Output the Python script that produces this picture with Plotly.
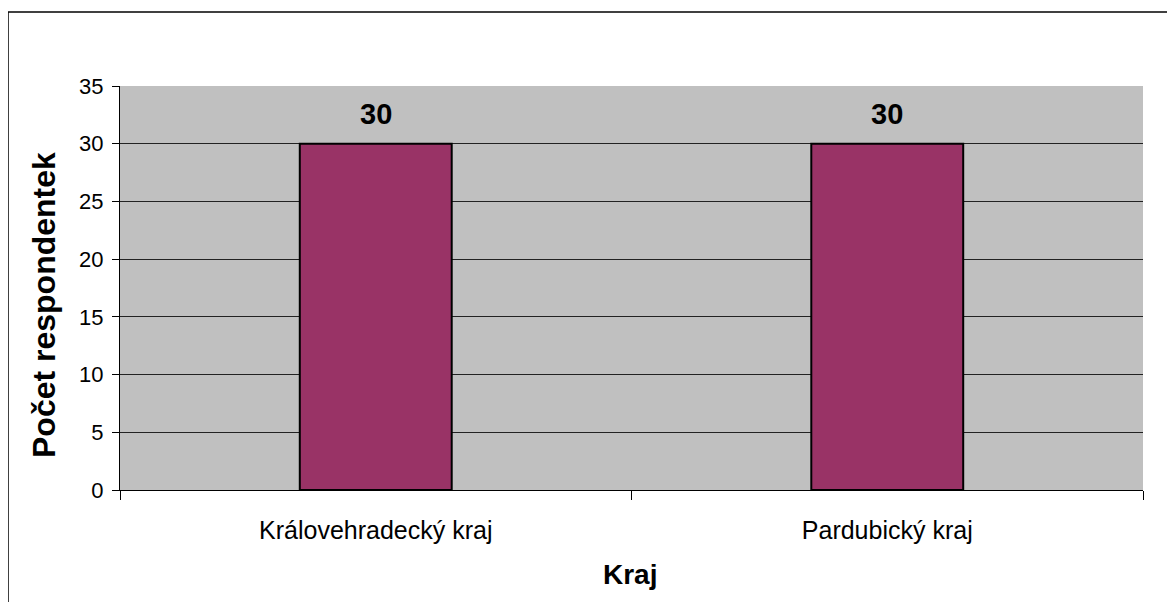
import plotly.graph_objects as go

categories = ["Královehradecký kraj", "Pardubický kraj"]
values = [30, 30]
y_ticks = [0, 5, 10, 15, 20, 25, 30, 35]
x_title = "Kraj"
y_title = "Počet respondentek"

FONT = "Liberation Sans, Arial, sans-serif"
W, H = 1175, 602
OFF = 8  # default page body margin
L, T = 120 - OFF, 86 - OFF
pw, ph = 1023, 404
R, B = W - L - pw, H - T - ph

def px(x):  # page pixel -> paper x
    return (x - OFF - L) / pw

def py(y):  # page pixel -> paper y
    return (T + ph - (y - OFF)) / ph

fig = go.Figure()
fig.add_trace(go.Bar(
    x=categories, y=values,
    marker=dict(color="#993366", line=dict(color="#000000", width=2)),
    hoverinfo="x+y",
))

for c, v in zip(categories, values):
    fig.add_annotation(x=c, y=v, text=f"<b>{v}</b>", showarrow=False,
                       yanchor="bottom", yshift=12,
                       font=dict(family=FONT, size=29, color="#000000"))

# axis titles
fig.add_annotation(xref="paper", yref="paper", x=px(630), y=py(574),
                   text=f"<b>{x_title}</b>", showarrow=False,
                   xanchor="center", yanchor="middle",
                   font=dict(family=FONT, size=28, color="#000000"))
fig.add_annotation(xref="paper", yref="paper", x=px(44), y=py(305),
                   text=f"<b>{y_title}</b>", showarrow=False, textangle=-90,
                   xanchor="center", yanchor="middle",
                   font=dict(family=FONT, size=32, color="#000000"))

# outer chart frame (left and top edges visible; right/bottom lie outside the picture)
frame = dict(color="#000000", width=1.5)
fig.add_shape(type="line", xref="paper", yref="paper",
              x0=px(8), x1=px(8), y0=py(H + 40), y1=py(12), line=frame, layer="below")
fig.add_shape(type="line", xref="paper", yref="paper",
              x0=px(8), x1=px(W + 40), y0=py(12), y1=py(12), line=frame, layer="below")

fig.update_layout(
    width=W, height=H,
    margin=dict(l=L, r=R, t=T, b=B, autoexpand=False),
    paper_bgcolor="#FFFFFF",
    plot_bgcolor="#C0C0C0",
    bargap=0.703,
    showlegend=False,
    font=dict(family=FONT, color="#000000"),
)
fig.update_xaxes(
    type="category", showline=True, linecolor="#000000", linewidth=1,
    ticks="outside", tickson="boundaries", ticklen=9, tickcolor="#000000", tickwidth=1,
    tickfont=dict(family=FONT, size=25, color="#000000"),
    showgrid=False, zeroline=False, ticklabelstandoff=18,
)
fig.update_yaxes(
    range=[0, 35], tickvals=y_ticks, showline=True, linecolor="#000000", linewidth=1,
    ticks="outside", ticklen=7, tickcolor="#000000", tickwidth=1,
    tickfont=dict(family=FONT, size=22, color="#000000"),
    showgrid=True, gridcolor="#222222", gridwidth=1, zeroline=False,
    ticklabelstandoff=4,
)

fig.write_html("out.html")
